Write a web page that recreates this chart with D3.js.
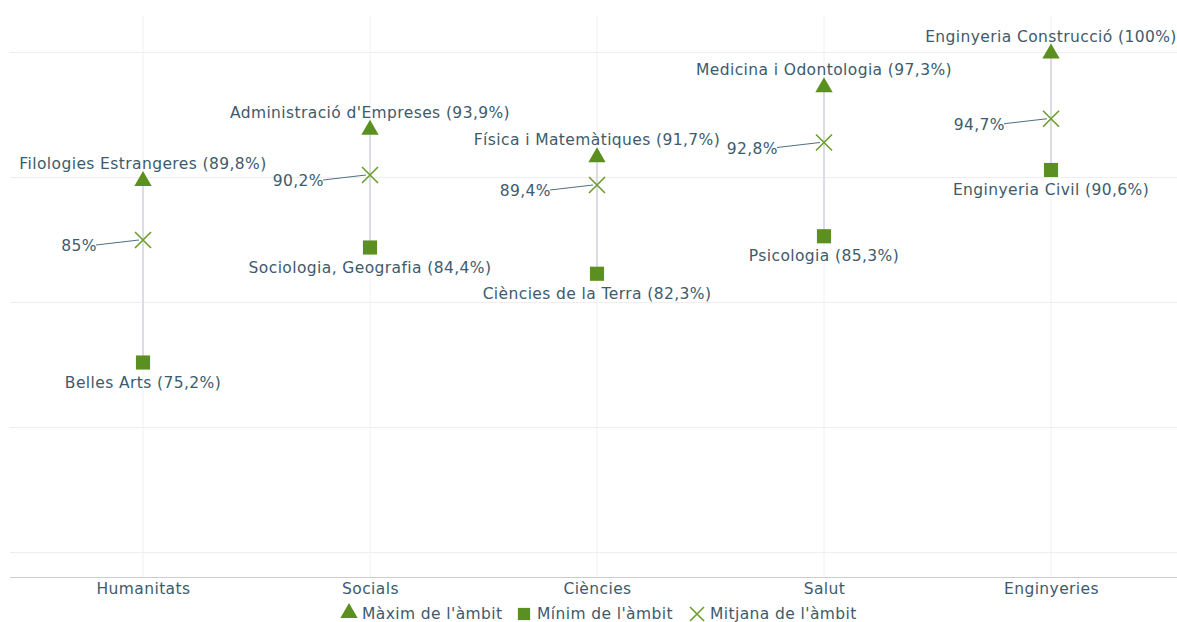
<!DOCTYPE html>
<html>
<head>
<meta charset="utf-8">
<script src="https://cdn.jsdelivr.net/npm/d3@7"></script>
<style>
    body { margin: 0; background: #fff; }
    text { font-family: "DejaVu Sans", sans-serif; letter-spacing: 0.4px; }
</style>
</head>
<body>
<script>
var ambits = ["Humanitats", "Socials", "Ciències", "Salut", "Enginyeries"];
var maxValues = [89.8, 93.9, 91.7, 97.3, 100];
var maxNames = ["Filologies Estrangeres", "Administració d'Empreses", "Física i Matemàtiques", "Medicina i Odontologia", "Enginyeria Construcció"];
var minValues = [75.2, 84.4, 82.3, 85.3, 90.6];
var minNames = ["Belles Arts", "Sociologia, Geografia", "Ciències de la Terra", "Psicologia", "Enginyeria Civil"];
var meanValues = [85, 90.2, 89.4, 92.8, 94.7];
var gridValues = [60, 70, 80, 90, 100];
var legendLabels = ["Màxim de l'àmbit", "Mínim de l'àmbit", "Mitjana de l'àmbit"];

var width = 1177, height = 622;
var green = "#5b8f1f";
var textColor = "#3d5b6c";
var fontSize = "15.5px";
var fmt = v => String(v).replace(".", ",") + "%";

var svg = d3.select("body").append("svg")
    .attr("width", width)
    .attr("height", height);

var x = d3.scalePoint().domain(ambits).range([143, 1051]);
var y = d3.scaleLinear().domain([58, 103]).range([577.5, 15]);

// gridlines
svg.append("g").selectAll("line").data(gridValues).join("line")
    .attr("x1", 10).attr("x2", width)
    .attr("y1", d => y(d)).attr("y2", d => y(d))
    .attr("stroke", "#eeeeee");
svg.append("g").selectAll("line").data(ambits).join("line")
    .attr("x1", d => x(d)).attr("x2", d => x(d))
    .attr("y1", 16).attr("y2", y(58))
    .attr("stroke", "#f0f0f0");

// x axis
var xAxis = svg.append("g")
    .attr("transform", "translate(0," + y(58) + ")")
    .call(d3.axisBottom(x).tickSize(0).tickPadding(5));
xAxis.select(".domain").attr("d", "M10,0H" + width).attr("stroke", "#cccccc");
xAxis.selectAll("text").attr("fill", textColor).style("font-size", fontSize).style("font-family", "DejaVu Sans");

var rows = ambits.map((a, i) => ({ ambit: a, max: maxValues[i], min: minValues[i], mean: meanValues[i], maxName: maxNames[i], minName: minNames[i] }));

// range lines
svg.append("g").selectAll("line").data(rows).join("line")
    .attr("x1", d => x(d.ambit)).attr("x2", d => x(d.ambit))
    .attr("y1", d => y(d.max)).attr("y2", d => y(d.min))
    .attr("stroke", "#dcdce4").attr("stroke-width", 2);

var tri = d3.symbol().type(d3.symbolTriangle).size(130);
var sq = d3.symbol().type(d3.symbolSquare).size(200);

// max markers
svg.append("g").selectAll("path").data(rows).join("path")
    .attr("d", tri)
    .attr("transform", d => "translate(" + x(d.ambit) + "," + (y(d.max) + 1) + ")")
    .attr("fill", green);
// min markers
svg.append("g").selectAll("path").data(rows).join("path")
    .attr("d", sq)
    .attr("transform", d => "translate(" + x(d.ambit) + "," + y(d.min) + ")")
    .attr("fill", green);
// mean markers (x)
var cross = svg.append("g").selectAll("g").data(rows).join("g")
    .attr("transform", d => "translate(" + x(d.ambit) + "," + y(d.mean) + ")");
cross.append("path")
    .attr("d", "M-8,-8L8,8M-8,8L8,-8")
    .attr("stroke", "#6a9e2c").attr("stroke-width", 1.6).attr("fill", "none");

// labels
svg.append("g").selectAll("text").data(rows).join("text")
    .attr("x", d => x(d.ambit)).attr("y", d => y(d.max) - 11)
    .attr("text-anchor", "middle")
    .attr("fill", textColor).style("font-size", fontSize)
    .text(d => d.maxName + " (" + fmt(d.max) + ")");
svg.append("g").selectAll("text").data(rows).join("text")
    .attr("x", d => x(d.ambit)).attr("y", d => y(d.min) + 25)
    .attr("text-anchor", "middle")
    .attr("fill", textColor).style("font-size", fontSize)
    .text(d => d.minName + " (" + fmt(d.min) + ")");
svg.append("g").selectAll("line").data(rows).join("line")
    .attr("x1", d => x(d.ambit) - 47).attr("y1", d => y(d.mean) + 5)
    .attr("x2", d => x(d.ambit) - 4).attr("y2", d => y(d.mean))
    .attr("stroke", "#50707e").attr("stroke-width", 1);
svg.append("g").selectAll("text").data(rows).join("text")
    .attr("x", d => x(d.ambit) - 46).attr("y", d => y(d.mean) + 11)
    .attr("text-anchor", "end")
    .attr("fill", textColor).style("font-size", fontSize)
    .text(d => fmt(d.mean));

// legend
var legend = svg.append("g").attr("transform", "translate(0,613)");
var legendX = [349, 524, 697];
legend.append("path").attr("d", tri).attr("transform", "translate(" + legendX[0] + ",0)").attr("fill", green);
legend.append("path").attr("d", d3.symbol().type(d3.symbolSquare).size(150)).attr("transform", "translate(" + legendX[1] + ",1)").attr("fill", green);
legend.append("path").attr("d", "M-7,-7L7,7M-7,7L7,-7").attr("transform", "translate(" + legendX[2] + ",1)")
    .attr("stroke", "#6a9e2c").attr("stroke-width", 1.6);
legend.selectAll("text").data(legendLabels).join("text")
    .attr("x", (d, i) => legendX[i] + 13).attr("y", 6)
    .attr("fill", textColor).style("font-size", fontSize)
    .text(d => d);
</script>
</body>
</html>
